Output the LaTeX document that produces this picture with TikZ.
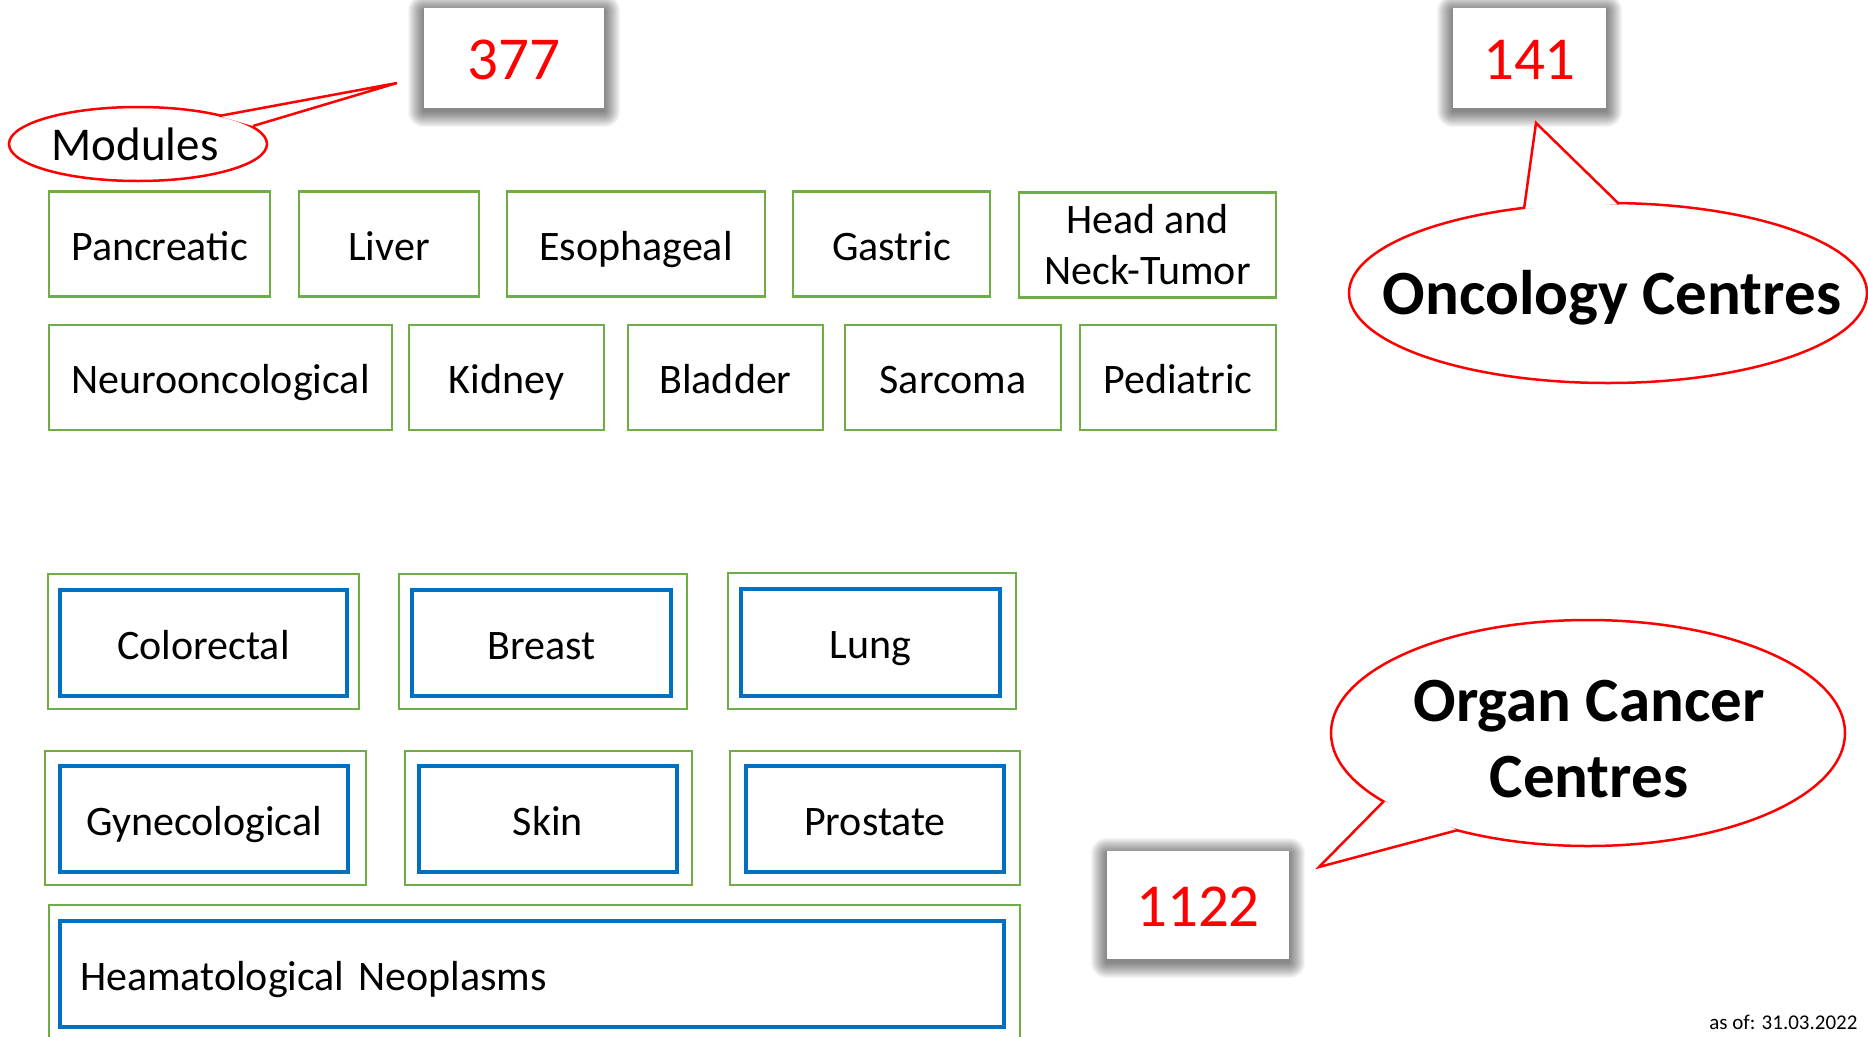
\documentclass[tikz,border=0pt]{standalone}
\usepackage{fontspec}
\setmainfont{Carlito}
\usetikzlibrary{shapes.geometric}
\definecolor{grn}{HTML}{70AD47}
\definecolor{blu}{HTML}{0070C0}
\pgfdeclarelayer{bg}
\pgfdeclarelayer{shad}
\pgfsetlayers{bg,shad,main}
\newcommand{\softshadow}[1]{%
  \begin{pgfonlayer}{shad}
  \foreach \d in {1,...,16}{%
    \fill[black, opacity=0.034, rounded corners=\d pt]
      ([xshift=-\d pt, yshift=\d pt - 3pt]#1.north west) rectangle
      ([xshift=\d pt, yshift=-\d pt - 3pt]#1.south east);
  }
  \end{pgfonlayer}}
\begin{document}
\begin{tikzpicture}[x=1pt,y=-1pt,
  gbox/.style={draw=grn, line width=2.5pt, inner sep=0pt, font=\fontsize{42}{51}\selectfont, align=center},
  bbox/.style={draw=blu, line width=3.5pt, inner sep=0pt, font=\fontsize{42}{51}\selectfont},
  ttext/.style={text height=39pt, text depth=7pt},
  numbox/.style={fill=white, inner sep=0pt, text=red, font=\fontsize{61}{70}\selectfont,
     text height=50.5pt, text depth=7pt},
  bubble/.style={ellipse, draw=red, line width=2.5pt, fill=white, inner sep=0pt},
  tailline/.style={draw=red, line width=2.5pt, line join=miter},
  bigbold/.style={font=\fontsize{63}{76}\selectfont\bfseries, align=center},
]
\begin{pgfonlayer}{bg}
\fill[white] (0,0) rectangle (1868,1036);
\end{pgfonlayer}
\useasboundingbox (0,0) rectangle (1868,1036);

% ---- Modules bubble
\node[bubble, minimum width=258pt, minimum height=74pt] (modb) at (138,144) {};
\coordinate (m1) at (219,116);
\coordinate (mtip) at (397,83);
\coordinate (m2) at (253,126);
\fill[white] (m1) -- (mtip) -- (m2) -- cycle;
\draw[tailline] (m1) -- (mtip) -- (m2);
\node[font=\fontsize{47}{56}\selectfont, text height=38pt, text depth=9pt] (modt) at (135,146) {Modules};

% ---- Oncology bubble
\node[bubble, minimum width=518pt, minimum height=180pt] (oncb) at (1608,293) {};
\coordinate (o1) at (1524,209);
\coordinate (otip) at (1536,123);
\coordinate (o2) at (1619,204);
\fill[white] (o1) -- (otip) -- (o2) -- cycle;
\draw[tailline] (o1) -- (otip) -- (o2);
\node[bigbold, text height=46pt, text depth=6pt] (onct) at (1612,294) {Oncology Centres};

% ---- Organ bubble
\node[bubble, minimum width=514pt, minimum height=226pt] (orgb) at (1588,733) {};
\coordinate (g1) at (1384,801);
\coordinate (gtip) at (1319,867);
\coordinate (g2) at (1458,830);
\fill[white] (g1) -- (gtip) -- (g2) -- cycle;
\draw[tailline] (g1) -- (gtip) -- (g2);
\node[bigbold] (orgt) at (1589,739) {Organ Cancer\\Centres};

% ---- number boxes
\node[numbox, minimum width=180pt, minimum height=100pt] (n377) at (514,58) {377};
\node[numbox, minimum width=153pt, minimum height=100pt] (n141) at (1529.5,58) {141};
\node[numbox, minimum width=182pt, minimum height=108pt] (n1122) at (1198,905) {1122};
\softshadow{n377}
\softshadow{n141}
\softshadow{n1122}

% ---- module boxes row 1
\node[gbox, ttext, minimum width=221pt, minimum height=105pt] (pan) at (159.5,244) {Pancreatic};
\node[gbox, ttext, minimum width=180pt, minimum height=105pt] (liv) at (389,244) {Liver};
\node[gbox, ttext, minimum width=258pt, minimum height=105pt] (eso) at (636,244) {Esophageal};
\node[gbox, ttext, minimum width=197pt, minimum height=105pt] (gas) at (891.5,244) {Gastric};
\node[gbox, minimum width=257pt, minimum height=105pt] (hnt) at (1147.5,245) {Head and\\Neck-Tumor};
% ---- row 2
\node[gbox, ttext, minimum width=343pt, minimum height=105pt] (neu) at (220.5,377.5) {Neurooncological};
\node[gbox, ttext, minimum width=195pt, minimum height=105pt] (kid) at (506.5,377.5) {Kidney};
\node[gbox, ttext, minimum width=195pt, minimum height=105pt] (bla) at (725.5,377.5) {Bladder};
\node[gbox, ttext, minimum width=216pt, minimum height=105pt] (sar) at (953,377.5) {Sarcoma};
\node[gbox, ttext, minimum width=196pt, minimum height=105pt] (ped) at (1178,377.5) {Pediatric};

% ---- organ cancer centre boxes
\node[gbox, minimum width=311pt, minimum height=135pt] (colo) at (203.5,641.5) {};
\node[bbox, ttext, minimum width=287pt, minimum height=106pt] (coli) at (203.5,643) {Colorectal};
\node[gbox, minimum width=288pt, minimum height=135pt] (breo) at (543,641.5) {};
\node[bbox, ttext, minimum width=259pt, minimum height=106pt] (brei) at (541.5,643) {Breast};
\node[gbox, minimum width=288pt, minimum height=136pt] (lungo) at (872,641) {};
\node[bbox, ttext, minimum width=259pt, minimum height=107pt] (lungi) at (870.5,642.5) {Lung};

\node[gbox, minimum width=321pt, minimum height=134pt] (gyno) at (205.5,818) {};
\node[bbox, ttext, minimum width=288pt, minimum height=106pt] (gyni) at (204,819) {Gynecological};
\node[gbox, minimum width=287pt, minimum height=134pt] (skino) at (548.5,818) {};
\node[bbox, ttext, minimum width=258pt, minimum height=106pt] (skini) at (548,819) {Skin};
\node[gbox, minimum width=290pt, minimum height=134pt] (proso) at (875,818) {};
\node[bbox, ttext, minimum width=258pt, minimum height=106pt] (prosi) at (875,819) {Prostate};

\node[gbox, minimum width=971pt, minimum height=150pt] (hemo) at (534.5,980) {};
\node[bbox, ttext, minimum width=944pt, minimum height=106pt, text width=904pt, inner xsep=20pt, align=left] (hemi) at (532,974) {Heamatological Neoplasms};

\node[anchor=east, font=\fontsize{21}{25}\selectfont] (asof) at (1861,1022) {as of: 31.03.2022};
\end{tikzpicture}
\end{document}
